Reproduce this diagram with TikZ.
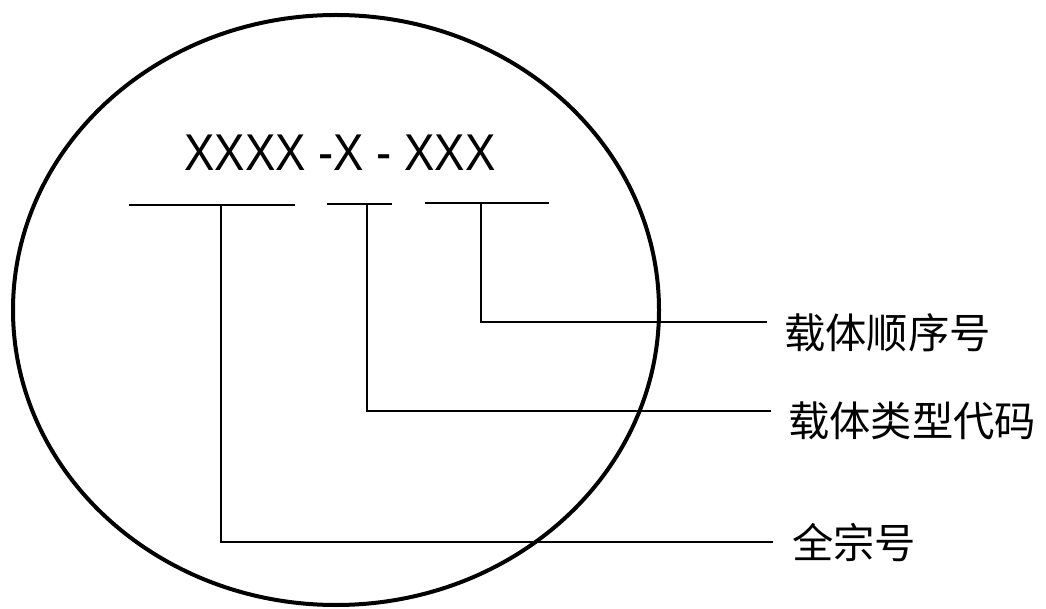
\documentclass[tikz,border=0pt]{standalone}
\usepackage{fontspec}
\setmainfont{Liberation Sans}
\newfontfamily\codefont[FakeStretch=0.88]{Liberation Sans}
\newfontfamily\cjk{Noto Sans CJK SC}
\begin{document}
\begin{tikzpicture}[x=0.75pt,y=-0.75pt,
  conn/.style={line width=1.3pt},
  under/.style={line width=1.3pt},
  lab/.style={anchor=west,inner sep=0pt,font=\cjk\fontsize{31}{31}\selectfont},
  ring/.style={line width=3pt}]
\useasboundingbox (0,0) rectangle (1046,609);
% outer ellipse
\draw[ring] (336,310) ellipse [x radius=323, y radius=295];
% code text
\node[anchor=base,inner sep=0pt,font=\codefont\fontsize{38.8}{38.8}\selectfont] (code) at (340,171) {XXXX -X - XXX};
% underlines
\coordinate (u1l) at (129,205); \coordinate (u1r) at (295,205);
\coordinate (u2l) at (327,204); \coordinate (u2r) at (392,204);
\coordinate (u3l) at (425,203); \coordinate (u3r) at (549,203);
\draw[under] (u1l) -- (u1r);
\draw[under] (u2l) -- (u2r);
\draw[under] (u3l) -- (u3r);
% tap points
\coordinate (t1) at (221,205);
\coordinate (t2) at (367,204);
\coordinate (t3) at (481,203);
% line ends
\coordinate (e1) at (767,322);
\coordinate (e2) at (771,411);
\coordinate (e3) at (773,542);
% labels
\node[lab] (l1) at (784,333) {载体顺序号};
\node[lab] (l2) at (788,421) {载体类型代码};
\node[lab] (l3) at (792,543) {全宗号};
% connectors
\draw[conn] (t3) |- (e1);
\draw[conn] (t2) |- (e2);
\draw[conn] (t1) |- (e3);
\end{tikzpicture}
\end{document}
